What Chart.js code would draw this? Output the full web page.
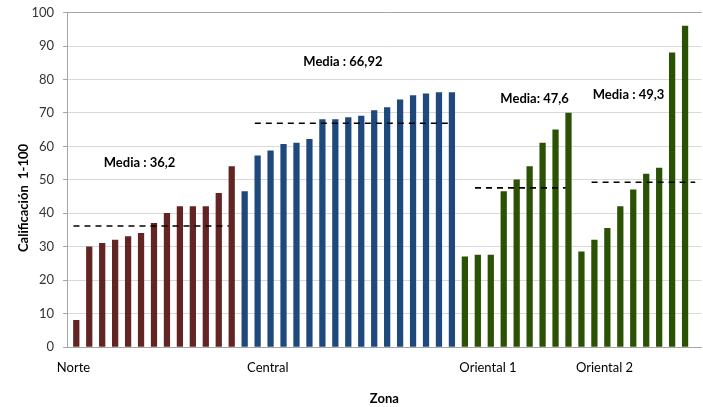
<!DOCTYPE html>
<html>
<head>
<meta charset="utf-8">
<script src="https://cdn.jsdelivr.net/npm/chart.js@4.4.0/dist/chart.umd.min.js"></script>
<style>
  html, body { margin: 0; padding: 0; background: #fff; }
  #wrap { width: 703px; height: 407px; }
</style>
</head>
<body>
<div id="wrap"><canvas id="chart" width="703" height="407"></canvas></div>
<script>
// ---- datos ----
const zonas = ['Norte', 'Central', 'Oriental 1', 'Oriental 2'];

// calificaciones por zona
const norte = [8, 30, 31, 32, 33, 34, 37, 40, 42, 42, 42, 46, 54];
const central = [46.5, 57.2, 58.7, 60.6, 61, 62.1, 68, 68, 68.6, 69.1, 70.7, 71.6, 73.9, 75.2, 75.7, 76.1, 76.1];
const oriental1 = [27, 27.5, 27.5, 46.5, 50, 54, 61, 65, 70];
const oriental2 = [28.5, 32, 35.5, 42, 47, 51.7, 53.5, 88, 96];

// medias
const medias = [36.2, 66.92, 47.6, 49.3];
const mediaTextos = ['Media : 36,2', 'Media : 66,92', 'Media: 47,6', 'Media : 49,3'];

// tramo de la linea de media (indice de categoria inicio, fin)
const mediaTramos = [[0, 12], [14, 29], [31, 38], [40, 48]];
// posicion del texto de la media (indice de categoria, valor)
const mediaTextoPos = [[5.1, 55], [20.8, 85.2], [35.6, 74.2], [42.85, 75.4]];

// donde aparece el nombre de cada zona en el eje x
const zonaEtiquetaIdx = [0, 15, 32, 41];

const yTicks = [0, 10, 20, 30, 40, 50, 60, 70, 80, 90, 100];

const colores = ['#632523', '#1F497D', '#2B5204', '#2B5204'];

// ---- armar categorias ----
const grupos = [norte, central, oriental1, oriental2];
const valores = [];
const barColores = [];
grupos.forEach((g, i) => {
    g.forEach(v => {
        valores.push(v);
        barColores.push(colores[i]);
    });
});
// una categoria vacia al final (como en el original)
valores.push(null);
barColores.push('#fff');

const etiquetas = valores.map(() => '');
zonaEtiquetaIdx.forEach((idx, i) => { etiquetas[idx] = zonas[i]; });

const nCat = valores.length;

// lineas de media (discontinuas)
const lineDatasets = medias.map((m, i) => ({
    type: 'line',
    xAxisID: 'x2',
    data: [{ x: mediaTramos[i][0], y: m }, { x: mediaTramos[i][1], y: m }],
    borderColor: '#000',
    borderWidth: 1.6,
    borderDash: [6, 5],
    pointRadius: 0,
    fill: false,
    order: 0
}));

// ---- textos: medias y titulo del eje y ----
const textosPlugin = {
    id: 'textos',
    afterDatasetsDraw(chart) {
        const ctx = chart.ctx;
        const xs = chart.scales.x2;
        const ys = chart.scales.y;
        ctx.save();
        ctx.fillStyle = '#000';
        ctx.font = 'bold 13px Lato';
        ctx.textAlign = 'center';
        ctx.textBaseline = 'middle';
        mediaTextos.forEach((t, i) => {
            const p = mediaTextoPos[i];
            ctx.fillText(t, xs.getPixelForValue(p[0]), ys.getPixelForValue(p[1]));
        });
        ctx.translate(24, 198);
        ctx.rotate(-Math.PI / 2);
        ctx.fillText('Calificación  1-100', 0, 0);
        ctx.restore();
    }
};

const ctx = document.getElementById('chart').getContext('2d');
const chart = new Chart(ctx, {
    type: 'bar',
    data: {
        labels: etiquetas,
        datasets: [
            ...lineDatasets,
            {
                type: 'bar',
                data: valores,
                backgroundColor: barColores,
                barThickness: 5.6,
                order: 1
            }
        ]
    },
    options: {
        responsive: false,
        animation: false,
        devicePixelRatio: 1,
        layout: { padding: { top: 12.7, right: 1.3, left: 0, bottom: 0 } },
        plugins: {
            legend: { display: false },
            tooltip: { enabled: false }
        },
        scales: {
            x: {
                afterFit(scale) {
                    scale.height = 60;
                    scale.paddingLeft = 0;
                    scale.paddingRight = 0;
                },
                grid: { display: false, drawTicks: false },
                border: { color: '#a6a6a6', width: 1 },
                ticks: {
                    autoSkip: false,
                    maxRotation: 0,
                    padding: 13,
                    color: '#000',
                    font: { family: 'Lato', size: 13 }
                },
                title: {
                    display: true,
                    text: 'Zona',
                    color: '#000',
                    padding: { top: 0, bottom: 0 },
                    font: { family: 'Lato', size: 13, weight: 'bold' }
                }
            },
            x2: {
                type: 'linear',
                display: false,
                offset: false,
                grid: { offset: false },
                min: -0.5,
                max: nCat - 0.5
            },
            y: {
                min: 0,
                max: 100,
                afterFit(scale) {
                    scale.width = 67;
                    scale.paddingTop = 0;
                    scale.paddingBottom = 0;
                },
                afterBuildTicks(scale) { scale.ticks = yTicks.map(v => ({ value: v })); },
                grid: {
                    color: c => (c.tick && c.tick.value === 100 ? '#a6a6a6' : '#d9d9d9'),
                    tickColor: '#a6a6a6',
                    tickLength: 4
                },
                border: { color: '#a6a6a6', width: 1 },
                ticks: {
                    padding: 9,
                    color: '#333',
                    font: { family: 'Lato', size: 13 }
                }
            }
        }
    },
    plugins: [textosPlugin]
});
</script>
</body>
</html>
